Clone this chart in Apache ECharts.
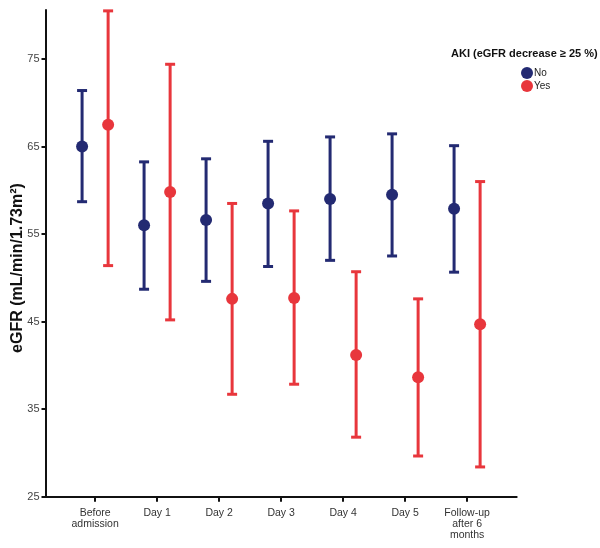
<!DOCTYPE html>
<html>
<head>
<meta charset="utf-8">
<script src="https://cdn.jsdelivr.net/npm/echarts@6/dist/echarts.min.js"></script>
<style>html,body{margin:0;padding:0;background:#fff}#c{width:600px;height:548px}</style>
</head>
<body>
<div id="c"></div>
<script>
var categories = ['Before\nadmission', 'Day 1', 'Day 2', 'Day 3', 'Day 4', 'Day 5', 'Follow-up\nafter 6\nmonths'];
var yTicks = [25, 35, 45, 55, 65, 75];
var noMean = [65.0, 56.0, 56.6, 58.5, 59.0, 59.5, 57.9];
var noLow  = [58.7, 48.7, 49.6, 51.3, 52.0, 52.5, 50.65];
var noHigh = [71.4, 63.25, 63.6, 65.6, 66.1, 66.45, 65.1];
var yesMean = [67.5, 59.8, 47.6, 47.7, 41.2, 38.65, 44.7];
var yesLow  = [51.4, 45.2, 36.7, 37.85, 31.8, 29.65, 28.4];
var yesHigh = [80.5, 74.4, 58.5, 57.65, 50.7, 47.6, 61.0];

var NAVY = '#232a72', RED = '#e8363c';
var FONT = 'Liberation Sans, Arial, sans-serif';
var OFF = 0.21;

function errData(low, high, off) {
  return low.map(function (l, i) { return [i + off, l, high[i]]; });
}
function ptData(mean, off) {
  return mean.map(function (m, i) { return [i + off, m]; });
}
function errSeries(name, data, color) {
  return {
    type: 'custom', name: name + ' err', data: data, z: 2, silent: true,
    encode: { x: 0, y: [1, 2] },
    renderItem: function (params, api) {
      var x = api.value(0), lo = api.value(1), hi = api.value(2);
      var a = api.coord([x, lo]), b = api.coord([x, hi]);
      var hw = 5, st = { stroke: color, lineWidth: 3 };
      return { type: 'group', children: [
        { type: 'line', shape: { x1: a[0], y1: a[1], x2: b[0], y2: b[1] }, style: st },
        { type: 'line', shape: { x1: a[0] - hw, y1: a[1], x2: a[0] + hw, y2: a[1] }, style: st },
        { type: 'line', shape: { x1: b[0] - hw, y1: b[1], x2: b[0] + hw, y2: b[1] }, style: st }
      ]};
    }
  };
}

var chart = echarts.init(document.getElementById('c'), null, { renderer: 'canvas' });
chart.setOption({
  animation: false,
  backgroundColor: '#fff',
  title: {
    text: 'AKI (eGFR decrease \u2265 25 %)', left: 446, top: 43,
    textStyle: { fontFamily: FONT, fontSize: 11, fontWeight: 'bold', color: '#111' }
  },
  legend: {
    data: ['No', 'Yes'], orient: 'vertical', left: 516, top: 62,
    icon: 'circle', itemWidth: 12, itemHeight: 12, itemGap: 1,
    textStyle: { fontFamily: FONT, fontSize: 10, color: '#222', padding: [0, 0, 0, -4] }
  },
  grid: { left: 45.5, right: 83.3, top: 10, bottom: 51.3 },
  xAxis: {
    type: 'value', min: -0.8, max: 6.8,
    splitLine: { show: false },
    axisLine: { onZero: false, lineStyle: { color: '#111', width: 2 } },
    axisTick: { show: true, length: 5, lineStyle: { color: '#111', width: 2 }, customValues: [0, 1, 2, 3, 4, 5, 6] },
    axisLabel: {
      customValues: [0, 1, 2, 3, 4, 5, 6], margin: 11, lineHeight: 11,
      fontFamily: FONT, fontSize: 10.5, color: '#333',
      formatter: function (v) { return categories[Math.round(v)]; }
    }
  },
  yAxis: {
    type: 'value', min: 25, max: 80.6,
    splitLine: { show: false },
    axisLine: { show: true, onZero: false, lineStyle: { color: '#111', width: 2 } },
    axisTick: { show: true, length: 4, lineStyle: { color: '#111', width: 2 }, customValues: yTicks },
    axisLabel: { customValues: yTicks, margin: 6, fontFamily: FONT, fontSize: 11, color: '#444' }
  },
  graphic: [{
    type: 'text', x: 18, y: 268, rotation: Math.PI / 2,
    style: { text: 'eGFR (mL/min/1.73m\u00b2)', fontFamily: FONT, fontSize: 16, fontWeight: 'bold',
      fill: '#111', textAlign: 'center', textVerticalAlign: 'middle' }
  }],
  series: [
    errSeries('No', errData(noLow, noHigh, -OFF), NAVY),
    errSeries('Yes', errData(yesLow, yesHigh, OFF), RED),
    { type: 'scatter', name: 'No', data: ptData(noMean, -OFF), symbolSize: 12, z: 3,
      itemStyle: { color: NAVY, opacity: 1 } },
    { type: 'scatter', name: 'Yes', data: ptData(yesMean, OFF), symbolSize: 12, z: 3,
      itemStyle: { color: RED, opacity: 1 } }
  ]
});
</script>
</body>
</html>
